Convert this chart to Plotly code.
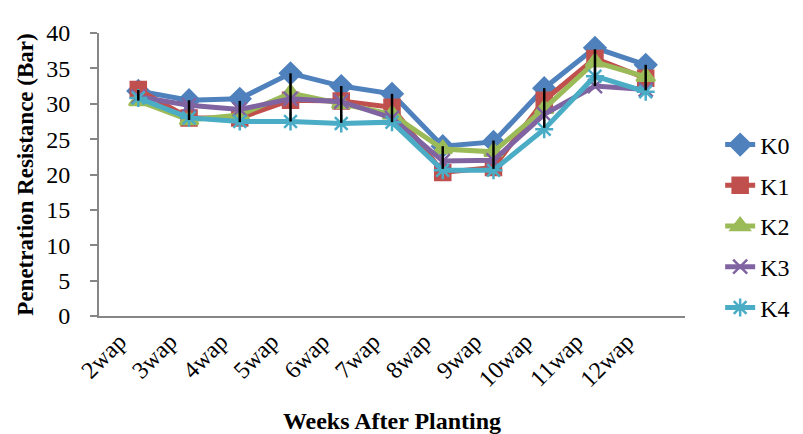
import plotly.graph_objects as go

weeks = ["2wap", "3wap", "4wap", "5wap", "6wap", "7wap", "8wap", "9wap", "10wap", "11wap", "12wap"]
K0 = [31.8, 30.5, 30.7, 34.3, 32.5, 31.4, 24.0, 24.6, 32.2, 37.9, 35.5]
K1 = [32.0, 28.0, 28.0, 30.5, 30.4, 29.5, 20.3, 21.0, 30.5, 36.4, 33.6]
K2 = [30.4, 27.7, 28.4, 31.5, 30.0, 28.5, 23.6, 23.2, 29.3, 35.9, 33.8]
K3 = [31.0, 29.8, 29.2, 30.7, 30.3, 28.0, 21.9, 22.0, 28.5, 32.5, 32.0]
K4 = [30.8, 28.0, 27.5, 27.5, 27.2, 27.4, 20.6, 20.6, 26.4, 33.9, 31.7]
err_center = [31.2, 29.1, 28.9, 30.9, 29.9, 29.4, 22.4, 22.8, 29.4, 35.1, 33.7]
err_half = [0.75, 1.4, 1.5, 3.4, 2.6, 2.0, 1.6, 2.0, 2.8, 2.6, 1.8]

series = [
    ("K0", K0, "#4F81BD", "diamond", 16),
    ("K1", K1, "#C0504D", "square", 15),
    ("K2", K2, "#9BBB59", "triangle-up", 16),
    ("K3", K3, "#8064A2", "x-thin-open", 14),
    ("K4", K4, "#4BACC6", "asterisk-open", 15),
]

FONT = "Liberation Serif, Times New Roman, serif"

fig = go.Figure()
for i, (name, vals, col, sym, sz) in enumerate(series):
    fig.add_trace(go.Scatter(
        x=weeks, y=vals, name=name, mode="lines+markers",
        line=dict(color=col, width=5),
        marker=dict(symbol=sym, size=sz, color=col, line=dict(color=col, width=2.5)),
        legendgroup=name,
    ))

fig.add_trace(go.Scatter(
    x=weeks, y=err_center, mode="markers", showlegend=False,
    marker=dict(size=1, opacity=0),
    error_y=dict(type="data", array=err_half, color="black", thickness=2.5, width=0, visible=True),
    hoverinfo="skip",
))

fig.update_layout(
    width=803, height=434,
    margin=dict(l=91, r=126, t=20, b=119),
    paper_bgcolor="white", plot_bgcolor="white",
    font=dict(family=FONT, size=24, color="black"),
    legend=dict(x=1.06, xanchor="left", y=0.318, yanchor="middle",
                font=dict(family=FONT, size=24), traceorder="grouped",
                tracegroupgap=6.5, itemwidth=30),
    showlegend=True,
)
fig.update_xaxes(
    showline=True, linecolor="#868686", linewidth=2, showgrid=False,
    ticks="", tickangle=-45, tickfont=dict(family=FONT, size=24),
    ticklabelshift=-19,
    title=dict(text="<b>Weeks After Planting</b>", font=dict(family=FONT, size=24), standoff=21),
)
fig.update_yaxes(
    range=[0, 40], dtick=5, showline=True, linecolor="#868686", linewidth=2,
    showgrid=False, ticks="outside", ticklen=7, tickcolor="#868686", tickwidth=2,
    zeroline=False, tickfont=dict(family=FONT, size=24), ticklabelstandoff=15,
    title=dict(text="<b>Penetration Resistance (Bar)</b>", font=dict(family=FONT, size=23), standoff=6),
)

fig.write_html("out.html")
